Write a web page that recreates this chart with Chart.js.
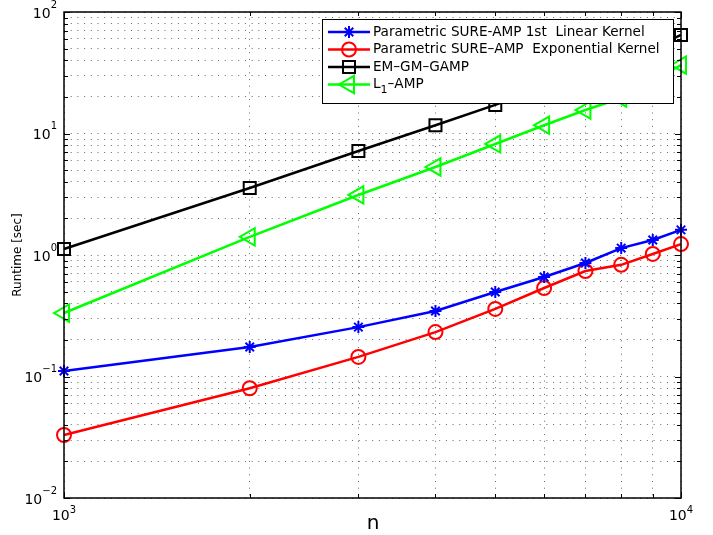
<!DOCTYPE html>
<html>
<head>
<meta charset="utf-8">
<script src="https://cdn.jsdelivr.net/npm/chart.js@4.4.0/dist/chart.umd.min.js"></script>
<style>
html, body { margin: 0; padding: 0; background: #fff; }
#wrap { width: 713px; height: 535px; }
</style>
</head>
<body>
<div id="wrap"><canvas id="c" width="713" height="535"></canvas></div>
<script>
// problem size n
const sizes = [1000, 2000, 3000, 4000, 5000, 6000, 7000, 8000, 9000, 10000];
// runtimes [sec]
const sureLinear = [0.111, 0.175, 0.255, 0.346, 0.496, 0.659, 0.859, 1.14, 1.33, 1.61];
const sureExp = [0.033, 0.080, 0.145, 0.232, 0.36, 0.535, 0.738, 0.83, 1.02, 1.23];
const emGmGamp = [1.12, 3.56, 7.18, 11.7, 17.2, 24, 31, 39, 50, 64.7];
const l1Amp = [0.333, 1.41, 3.12, 5.3, 8.2, 11.7, 15.6, 19.6, 27, 36.6];

const names = [
    "Parametric SURE-AMP 1st  Linear Kernel",
    "Parametric SURE\u2013AMP  Exponential Kernel",
    "EM\u2013GM\u2013GAMP",
    "L1\u2013AMP"
];
const yDecades = [-2, -1, 0, 1, 2];
const xDecades = [3, 4];

const FONT = "'DejaVu Sans', sans-serif";

const pts = (ys) => sizes.map((x, i) => ({ x, y: ys[i] }));

const mkSet = (label, ys, color, style, radius, rotation) => ({
    label,
    data: pts(ys),
    borderColor: color,
    backgroundColor: "rgba(0,0,0,0)",
    borderWidth: 2.5,
    pointStyle: style,
    pointRadius: radius,
    pointRotation: rotation || 0,
    pointBorderWidth: 2,
    pointBorderColor: color,
    pointBackgroundColor: "rgba(0,0,0,0)",
    tension: 0,
    clip: false
});

const datasets = [
    mkSet(names[0], sureLinear, "#0000ff", "star", 6),
    mkSet(names[1], sureExp, "#ff0000", "circle", 7),
    mkSet(names[2], emGmGamp, "#000000", "rect", 8.5),
    mkSet(names[3], l1Amp, "#00ff00", "triangle", 10, -90)
];

const isDecade = (v) => Math.abs(Math.log10(v) - Math.round(Math.log10(v))) < 1e-6;

// keep only 1..9 x 10^k ticks
const keepWholeTicks = (scale) => {
    scale.ticks = scale.ticks.filter(t => {
        const e = Math.floor(Math.log10(t.value) + 1e-9);
        const m = t.value / Math.pow(10, e);
        return Math.abs(m - Math.round(m)) < 1e-6;
    });
};

// box, inward ticks, tick labels and axis titles
const frame = {
    id: "frame",
    afterDraw(chart) {
        const ctx = chart.ctx;
        const a = chart.chartArea;
        const xs = chart.scales.x, ys = chart.scales.y;
        ctx.save();
        ctx.strokeStyle = "#000";
        ctx.lineWidth = 1;
        ctx.beginPath();
        xs.ticks.forEach(t => {
            const px = Math.round(xs.getPixelForValue(t.value)) + 0.5;
            const len = isDecade(t.value) ? 6 : 4;
            ctx.moveTo(px, a.bottom); ctx.lineTo(px, a.bottom - len);
            ctx.moveTo(px, a.top); ctx.lineTo(px, a.top + len);
        });
        ys.ticks.forEach(t => {
            const py = Math.round(ys.getPixelForValue(t.value)) + 0.5;
            const len = isDecade(t.value) ? 6 : 4;
            ctx.moveTo(a.left, py); ctx.lineTo(a.left + len, py);
            ctx.moveTo(a.right, py); ctx.lineTo(a.right - len, py);
        });
        ctx.stroke();
        ctx.lineWidth = 1.5;
        ctx.strokeRect(a.left, a.top, a.right - a.left, a.bottom - a.top);

        ctx.fillStyle = "#000";
        ctx.textBaseline = "middle";
        const sup = (k) => (k < 0 ? "\u2212" + (-k) : String(k));
        yDecades.forEach(k => {
            const py = ys.getPixelForValue(Math.pow(10, k));
            ctx.font = "10px " + FONT;
            const ew = ctx.measureText(sup(k)).width;
            const right = 57;
            ctx.textAlign = "right";
            ctx.fillText(sup(k), right, py - 7);
            ctx.font = "14px " + FONT;
            ctx.fillText("10", right - ew, py + 2);
        });
        xDecades.forEach(k => {
            const px = xs.getPixelForValue(Math.pow(10, k));
            ctx.font = "14px " + FONT;
            const bw = ctx.measureText("10").width;
            ctx.font = "10px " + FONT;
            const ew = ctx.measureText(sup(k)).width;
            const left = px - (bw + ew) / 2;
            ctx.textAlign = "left";
            ctx.fillText(sup(k), left + bw, 510);
            ctx.font = "14px " + FONT;
            ctx.fillText("10", left, 516);
        });

        ctx.textAlign = "center";
        ctx.font = "20px " + FONT;
        ctx.fillText("n", 373, 524);
        ctx.save();
        ctx.translate(18, (a.top + a.bottom) / 2);
        ctx.rotate(-Math.PI / 2);
        ctx.font = "12px " + FONT;
        ctx.fillText("Runtime [sec]", 0, 0);
        ctx.restore();
        ctx.restore();
    }
};

// legend box in the upper right of the axes
const boxLegend = {
    id: "boxLegend",
    afterDatasetsDraw(chart) {
        const ctx = chart.ctx;
        const bx = 322.5, by = 19.5, bw = 351, bh = 84;
        ctx.save();
        ctx.fillStyle = "#fff";
        ctx.fillRect(bx, by, bw, bh);
        ctx.strokeStyle = "#000";
        ctx.lineWidth = 1;
        ctx.strokeRect(bx, by, bw, bh);
        const rows = [32, 49.5, 67, 84.5];
        chart.data.datasets.forEach((ds, i) => {
            const y = rows[i];
            ctx.strokeStyle = ds.borderColor;
            ctx.lineWidth = 2.5;
            ctx.beginPath();
            ctx.moveTo(328, y); ctx.lineTo(370, y);
            ctx.stroke();
            ctx.fillStyle = "rgba(0,0,0,0)";
            ctx.lineWidth = 2;
            Chart.helpers.drawPoint(ctx, {
                pointStyle: ds.pointStyle,
                radius: ds.pointRadius,
                rotation: ds.pointRotation,
                borderWidth: 2
            }, 349, y);
            ctx.fillStyle = "#000";
            ctx.textBaseline = "middle";
            ctx.textAlign = "left";
            ctx.font = "13.6px " + FONT;
            if (i === 3) {
                ctx.fillText("L", 373, y);
                const lw = ctx.measureText("L").width;
                ctx.font = "11px " + FONT;
                ctx.fillText("1", 373 + lw, y + 6);
                const sw = ctx.measureText("1").width;
                ctx.font = "13.6px " + FONT;
                ctx.fillText("\u2013AMP", 373 + lw + sw, y);
            } else {
                ctx.fillText(ds.label, 373, y);
            }
        });
        ctx.restore();
    }
};

const gridOpts = {
    color: "rgba(0,0,0,0.6)",
    lineWidth: 1,
    drawTicks: false
};

new Chart(document.getElementById("c").getContext("2d"), {
    type: "line",
    data: { datasets },
    options: {
        responsive: false,
        animation: false,
        devicePixelRatio: 1,
        layout: { padding: { top: 12, right: 32, left: 0, bottom: 0 } },
        plugins: { legend: { display: false }, tooltip: { enabled: false } },
        scales: {
            x: {
                type: "logarithmic",
                min: 1000,
                max: 10000,
                grid: gridOpts,
                border: { display: false, dash: [1, 5.7] },
                ticks: { display: false, autoSkip: false },
                afterBuildTicks: keepWholeTicks,
                afterFit: (s) => { s.height = 37; }
            },
            y: {
                type: "logarithmic",
                min: 0.01,
                max: 100,
                grid: gridOpts,
                border: { display: false, dash: [1, 5.7] },
                ticks: { display: false, autoSkip: false },
                afterBuildTicks: keepWholeTicks,
                afterFit: (s) => { s.width = 64; }
            }
        }
    },
    plugins: [boxLegend, frame]
});
</script>
</body>
</html>
